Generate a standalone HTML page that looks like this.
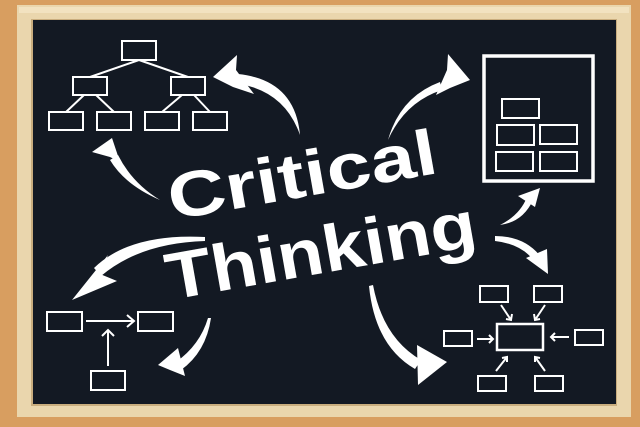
<!DOCTYPE html>
<html><head><meta charset="utf-8"><style>
html,body{margin:0;padding:0;width:640px;height:427px;overflow:hidden;background:#d69a5c}
</style></head><body>
<svg width="640" height="427" viewBox="0 0 640 427" xmlns="http://www.w3.org/2000/svg">
<rect width="640" height="427" fill="#d89e60"/>
<rect x="17" y="5" width="614" height="412" fill="#ead6ad"/>
<rect x="19" y="7" width="610" height="6" fill="#f2e2c0"/>
<rect x="31" y="19" width="586" height="387" fill="#c9ad7e"/>
<rect x="33" y="20" width="583" height="384" fill="#131923"/>
<g fill="none" stroke="#fff" stroke-width="2">
<rect x="122" y="41" width="34" height="19"/>
<rect x="73" y="77" width="34" height="18"/><rect x="171" y="77" width="34" height="18"/>
<rect x="49" y="112" width="34" height="18"/><rect x="97" y="112" width="34" height="18"/>
<rect x="145" y="112" width="34" height="18"/><rect x="193" y="112" width="34" height="18"/>
<path d="M139 60 L90 77 M139 60 L188 77 M84 95 L66 112 M96 95 L114 112 M182 95 L162 112 M194 95 L210 112"/>
<rect x="484" y="56" width="109" height="125" stroke-width="3.5"/>
<rect x="502" y="99" width="37" height="19"/>
<rect x="497" y="125" width="37" height="20"/><rect x="540" y="125" width="37" height="19"/>
<rect x="496" y="152" width="37" height="19"/><rect x="540" y="152" width="37" height="19"/>
<rect x="47" y="312" width="35" height="19"/><rect x="138" y="312" width="35" height="19"/>
<rect x="91" y="371" width="34" height="19"/>
<path d="M86 321 L133 321 M127 315 L134 321 L127 327 M108 366 L108 330 M102 336 L108 330 L114 336"/>
<rect x="497" y="324" width="46" height="26" stroke-width="2.5"/>
<rect x="480" y="286" width="28" height="16"/><rect x="534" y="286" width="28" height="16"/>
<rect x="444" y="331" width="28" height="15"/><rect x="575" y="330" width="28" height="15"/>
<rect x="478" y="376" width="28" height="15"/><rect x="535" y="376" width="28" height="15"/>
<path d="M501 305 L511 320 M506 319 L511 320 L512 314 M545 305 L535 320 M534 314 L535 320 L540 319 M477 339 L493 339 M489 335 L493 339 L489 343 M569 337 L551 337 M555 333 L551 337 L555 341 M496 371 L507 357 M502 358 L507 357 L507 362 M545 371 L535 357 M535 362 L535 357 L540 358"/>
</g>
<g fill="#fff">
<path d="M300 135 Q285 92 240 84 L238 74 Q295 80 300 135 Z"/>
<polygon points="213,77 237,55 236,70 254,94 233,87"/>
<path d="M160 200 Q125 185 110 160 L118 155 Q132 183 160 200 Z"/>
<polygon points="92,152 112,138 120,162 110,157"/>
<path d="M388 140 Q400 97 440 82 L442 90 Q405 102 388 140 Z"/>
<polygon points="470,80 448,54 447,70 436,95 450,88"/>
<path d="M500 225 Q520 215 527 197 L533 200 Q523 222 500 225 Z"/>
<polygon points="540,188 518,196 535,207"/>
<path d="M495 236 Q525 236 541 257 L535 262 Q522 244 495 241 Z"/>
<polygon points="548,274 526,258 547,249"/>
<path d="M205 237 Q130 233 94 268 L101 276 Q140 243 205 241 Z"/>
<polygon points="72,300 117,281 100,274 108,255"/>
<path d="M211 318 Q206 352 181 370 L176 362 Q200 345 208 318 Z"/>
<polygon points="158,365 178,348 185,376 170,370"/>
<path d="M373 285 Q383 338 421 360 L415 369 Q375 346 369 286 Z"/>
<polygon points="447,362 417,345 418,385"/>
</g>
<g fill="#fff" font-family="'Liberation Sans',sans-serif" font-weight="bold">
<text x="172" y="220" font-size="64" textLength="272" lengthAdjust="spacingAndGlyphs" transform="rotate(-10 172 220)">Critical</text>
<text x="170" y="300" font-size="66" textLength="314" lengthAdjust="spacingAndGlyphs" transform="rotate(-10 170 300)">Thinking</text>
</g>
</svg>
</body></html>
